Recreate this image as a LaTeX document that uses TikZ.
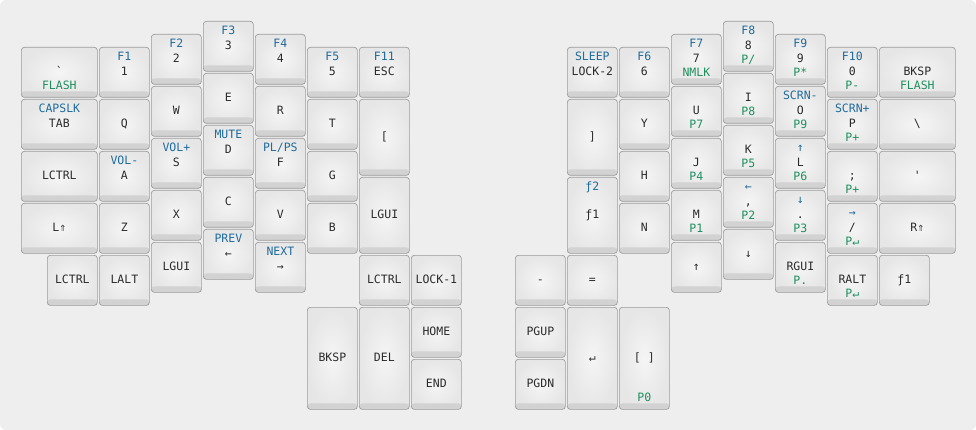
\documentclass[tikz,border=0pt]{standalone}
\usepackage{fontspec}
\newfontfamily\keyfont{DejaVu Sans Mono}
\usetikzlibrary{calc,positioning}
\definecolor{kbback}{HTML}{EEEEEE}
\definecolor{keyedge}{HTML}{9C9C9C}
\definecolor{keyface}{HTML}{E6E6E6}
\definecolor{keylip}{HTML}{D2D2D2}
\definecolor{keytext}{HTML}{2B2B2B}
\definecolor{layerblue}{HTML}{1F6B9C}
\definecolor{layergreen}{HTML}{1F8F5F}

\begin{document}
\begin{tikzpicture}[x=1pt,y=-1pt]
				\edef\sizekey{50pt}
				\tikzstyle{keycap}=[draw=keyedge,line width=0.7pt,rounded corners=3pt,
				    inner color=white!60!keyface,outer color=keyface,anchor=north west,
				    minimum width=\sizekey,minimum height=\sizekey,inner sep=0pt,
				    text=keytext,font=\keyfont\fontsize{11.5}{13}\selectfont,
				    text height=8pt,text depth=1pt,
				    path picture={\fill[keylip] ([yshift=6pt]path picture bounding box.south west) rectangle (path picture bounding box.south east);}]
				\tikzstyle{wide}=[minimum width=76pt]
				\tikzstyle{tall}=[minimum height=76pt]
				\tikzstyle{double}=[minimum height=102pt]
				\tikzstyle{upper}=[text=layerblue,inner sep=0pt,font=\keyfont\fontsize{11.5}{13}\selectfont,text height=8pt,text depth=1pt]
				\tikzstyle{lower}=[text=layergreen,inner sep=0pt,font=\keyfont\fontsize{11.5}{13}\selectfont,text height=8pt,text depth=1pt]

				\useasboundingbox (0,0) rectangle (976,430);
				\fill [white] (0,0) rectangle (976,430);
				\fill [kbback,rounded corners=6pt] (0,0) rectangle (976,430);

				%% Left hand
				\node [keycap,wide] (lgrave) at (21,47) {\textasciigrave};
				\node [lower] at ([yshift=12pt]lgrave.south) {FLASH};
				\node [keycap,wide] (ltab) at (21,99) {TAB};
				\node [upper] at ([yshift=-10pt]ltab.north) {CAPSLK};
				\node [keycap,wide] (lctrla) at (21,151) {LCTRL};
				\node [keycap,wide] (lshift) at (21,203) {L⇑};
				\node [keycap] (lctrlb) at (47,255) {LCTRL};

				\node [keycap] (l1) at (99,47) {1};
				\node [upper] at ([yshift=-10pt]l1.north) {F1};
				\node [keycap] (lq) at (99,99) {Q};
				\node [keycap] (la) at (99,151) {A};
				\node [upper] at ([yshift=-10pt]la.north) {VOL-};
				\node [keycap] (lz) at (99,203) {Z};
				\node [keycap] (lalt) at (99,255) {LALT};

				\node [keycap] (l2) at (151,34) {2};
				\node [upper] at ([yshift=-10pt]l2.north) {F2};
				\node [keycap] (lw) at (151,86) {W};
				\node [keycap] (ls) at (151,138) {S};
				\node [upper] at ([yshift=-10pt]ls.north) {VOL+};
				\node [keycap] (lx) at (151,190) {X};
				\node [keycap] (lguia) at (151,242) {LGUI};

				\node [keycap] (l3) at (203,21) {3};
				\node [upper] at ([yshift=-10pt]l3.north) {F3};
				\node [keycap] (le) at (203,73) {E};
				\node [keycap] (ld) at (203,125) {D};
				\node [upper] at ([yshift=-10pt]ld.north) {MUTE};
				\node [keycap] (lc) at (203,177) {C};
				\node [keycap] (lleft) at (203,229) {←};
				\node [upper] at ([yshift=-10pt]lleft.north) {PREV};

				\node [keycap] (l4) at (255,34) {4};
				\node [upper] at ([yshift=-10pt]l4.north) {F4};
				\node [keycap] (lr) at (255,86) {R};
				\node [keycap] (lf) at (255,138) {F};
				\node [upper] at ([yshift=-10pt]lf.north) {PL/PS};
				\node [keycap] (lv) at (255,190) {V};
				\node [keycap] (lright) at (255,242) {→};
				\node [upper] at ([yshift=-10pt]lright.north) {NEXT};

				\node [keycap] (l5) at (307,47) {5};
				\node [upper] at ([yshift=-10pt]l5.north) {F5};
				\node [keycap] (lt) at (307,99) {T};
				\node [keycap] (lg) at (307,151) {G};
				\node [keycap] (lb) at (307,203) {B};

				\node [keycap] (lesc) at (359,47) {ESC};
				\node [upper] at ([yshift=-10pt]lesc.north) {F11};
				\node [keycap,tall] (lbrack) at (359,99) {[};
				\node [keycap,tall] (lguib) at (359,177) {LGUI};

				%% Left thumb
				\node [keycap] (lctrlc) at (359,255) {LCTRL};
				\node [keycap] (llock) at (411,255) {LOCK-1};
				\node [keycap,double] (lbksp) at (307,307) {BKSP};
				\node [keycap,double] (ldel) at (359,307) {DEL};
				\node [keycap] (lhome) at (411,307) {HOME};
				\node [keycap] (lend) at (411,359) {END};

				%% Right thumb
				\node [keycap] (rminus) at (515,255) {-};
				\node [keycap] (requal) at (567,255) {=};
				\node [keycap] (rpgup) at (515,307) {PGUP};
				\node [keycap] (rpgdn) at (515,359) {PGDN};
				\node [keycap,double] (renter) at (567,307) {↵};
				\node [keycap,double] (rbracks) at (619,307) {[ ]};
				\node [lower] at ([yshift=12pt]rbracks.south) {P0};

				%% Right hand
				\node [keycap] (rlock) at (567,47) {LOCK-2};
				\node [upper] at ([yshift=-10pt]rlock.north) {SLEEP};
				\node [keycap,tall] (rbrack) at (567,99) {]};
				\node [keycap,tall] (rfna) at (567,177) {ƒ1};
				\node [upper] at ([yshift=-10pt]rfna.north) {ƒ2};

				\node [keycap] (r6) at (619,47) {6};
				\node [upper] at ([yshift=-10pt]r6.north) {F6};
				\node [keycap] (ry) at (619,99) {Y};
				\node [keycap] (rh) at (619,151) {H};
				\node [keycap] (rn) at (619,203) {N};

				\node [keycap] (r7) at (671,34) {7};
				\node [upper] at ([yshift=-10pt]r7.north) {F7};
				\node [lower] at ([yshift=12pt]r7.south) {NMLK};
				\node [keycap] (ru) at (671,86) {U};
				\node [lower] at ([yshift=12pt]ru.south) {P7};
				\node [keycap] (rj) at (671,138) {J};
				\node [lower] at ([yshift=12pt]rj.south) {P4};
				\node [keycap] (rm) at (671,190) {M};
				\node [lower] at ([yshift=12pt]rm.south) {P1};
				\node [keycap] (rup) at (671,242) {↑};

				\node [keycap] (r8) at (723,21) {8};
				\node [upper] at ([yshift=-10pt]r8.north) {F8};
				\node [lower] at ([yshift=12pt]r8.south) {P/};
				\node [keycap] (ri) at (723,73) {I};
				\node [lower] at ([yshift=12pt]ri.south) {P8};
				\node [keycap] (rk) at (723,125) {K};
				\node [lower] at ([yshift=12pt]rk.south) {P5};
				\node [keycap] (rcomma) at (723,177) {,};
				\node [upper] at ([yshift=-10pt]rcomma.north) {←};
				\node [lower] at ([yshift=12pt]rcomma.south) {P2};
				\node [keycap] (rdown) at (723,229) {↓};

				\node [keycap] (r9) at (775,34) {9};
				\node [upper] at ([yshift=-10pt]r9.north) {F9};
				\node [lower] at ([yshift=12pt]r9.south) {P*};
				\node [keycap] (ro) at (775,86) {O};
				\node [upper] at ([yshift=-10pt]ro.north) {SCRN-};
				\node [lower] at ([yshift=12pt]ro.south) {P9};
				\node [keycap] (rl) at (775,138) {L};
				\node [upper] at ([yshift=-10pt]rl.north) {↑};
				\node [lower] at ([yshift=12pt]rl.south) {P6};
				\node [keycap] (rdot) at (775,190) {.};
				\node [upper] at ([yshift=-10pt]rdot.north) {↓};
				\node [lower] at ([yshift=12pt]rdot.south) {P3};
				\node [keycap] (rgui) at (775,242) {RGUI};
				\node [lower] at ([yshift=12pt]rgui.south) {P.};

				\node [keycap] (r0) at (827,47) {0};
				\node [upper] at ([yshift=-10pt]r0.north) {F10};
				\node [lower] at ([yshift=12pt]r0.south) {P-};
				\node [keycap] (rp) at (827,99) {P};
				\node [upper] at ([yshift=-10pt]rp.north) {SCRN+};
				\node [lower] at ([yshift=12pt]rp.south) {P+};
				\node [keycap] (rsemi) at (827,151) {;};
				\node [lower] at ([yshift=12pt]rsemi.south) {P+};
				\node [keycap] (rslash) at (827,203) {/};
				\node [upper] at ([yshift=-10pt]rslash.north) {→};
				\node [lower] at ([yshift=12pt]rslash.south) {P↵};
				\node [keycap] (ralt) at (827,255) {RALT};
				\node [lower] at ([yshift=12pt]ralt.south) {P↵};

				\node [keycap,wide] (rbksp) at (879,47) {BKSP};
				\node [lower] at ([yshift=12pt]rbksp.south) {FLASH};
				\node [keycap,wide] (rbslash) at (879,99) {\textbackslash};
				\node [keycap,wide] (rquote) at (879,151) {'};
				\node [keycap,wide] (rshift) at (879,203) {R⇑};
				\node [keycap] (rfnb) at (879,255) {ƒ1};
\end{tikzpicture}
\end{document}
